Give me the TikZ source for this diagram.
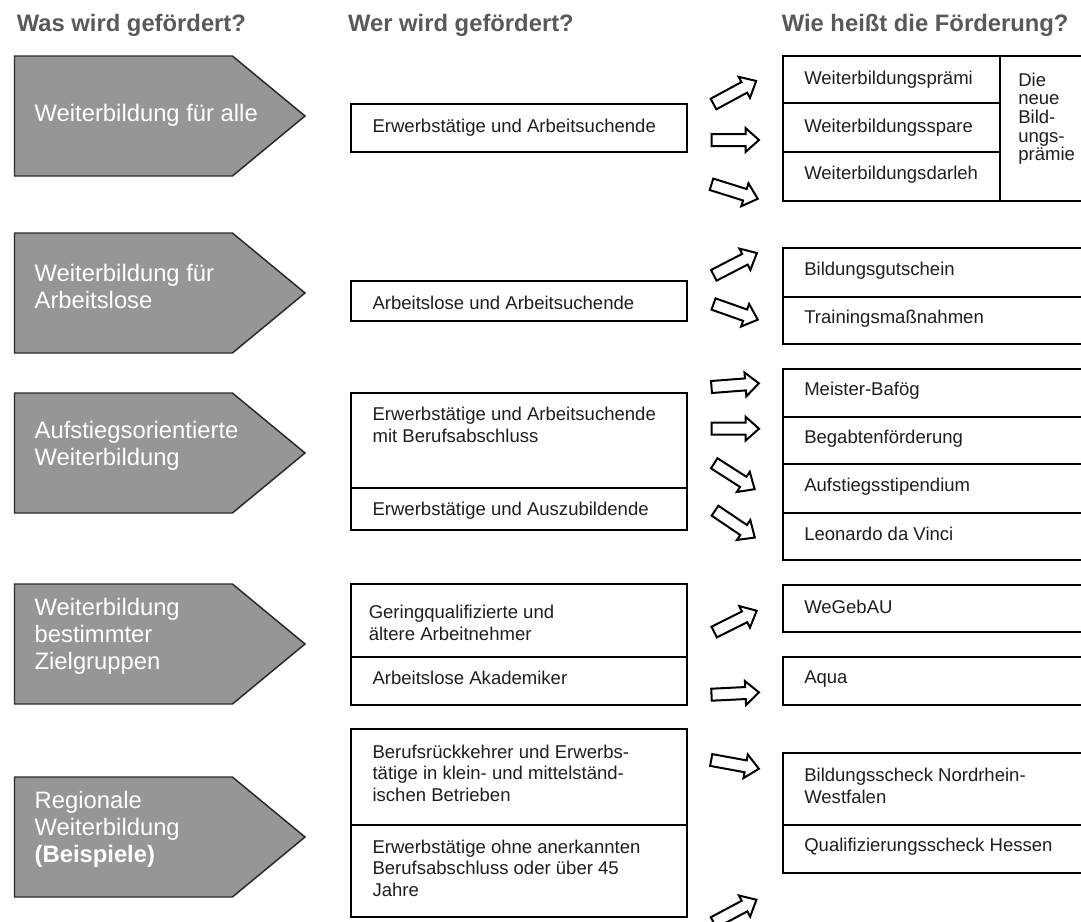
\documentclass[tikz,border=0pt]{standalone}
\usepackage{fontspec}
\setmainfont{Liberation Sans}
\definecolor{headcol}{RGB}{89,89,89}
\definecolor{pentfill}{RGB}{150,150,150}
\definecolor{pentdraw}{RGB}{40,40,40}
\definecolor{textcol}{RGB}{30,30,30}
\newcommand\blockarr[3]{%
  \draw[barrow, shift={(#1)}, rotate=#2]
    (0,-6) -- ({#3-13.5},-6) -- ({#3-13.5},-12) -- (#3,0) --
    ({#3-13.5},12) -- ({#3-13.5},6) -- (0,6) -- cycle;}
\begin{document}
\begin{tikzpicture}[x=0.75pt,y=-0.75pt,
  pent/.style={fill=pentfill, draw=pentdraw, line width=1.1pt, line join=miter},
  penttext/.style={anchor=west, inner sep=0pt, text=white, align=left, font=\fontsize{17.85}{20.25}\selectfont},
  head/.style={anchor=base west, inner sep=0pt, text=headcol, font=\bfseries\fontsize{17.85}{21}\selectfont},
  boxline/.style={draw=black, line width=1.5pt},
  btext/.style={anchor=west, inner sep=0pt, text=textcol, align=left, font=\fontsize{13.9}{16}\selectfont},
  dtext/.style={btext, font=\fontsize{13.9}{14}\selectfont},
  barrow/.style={draw=black, fill=white, line width=1.5pt, line join=miter}]
\useasboundingbox (0,0) rectangle (1081,921);
\clip (0,0) rectangle (1081,921);
\fill[white] (0,0) rectangle (1081,921);

% headers
\node[head] (h1) at (16.5,31) {Was wird gefördert?};
\node[head] (h2) at (347.8,31) {Wer wird gefördert?};
\node[head] (h3) at (781.5,31) {Wie heißt die Förderung?};

% pentagons
\path[pent] (14.5,56) -- (232.4,56) -- (305,116) -- (232.4,176) -- (14.5,176) -- cycle;
\path[pent] (14.5,233) -- (232.4,233) -- (305,293) -- (232.4,353) -- (14.5,353) -- cycle;
\path[pent] (14.5,393) -- (232.4,393) -- (305,453) -- (232.4,513) -- (14.5,513) -- cycle;
\path[pent] (14.5,584) -- (232.4,584) -- (305,644) -- (232.4,704) -- (14.5,704) -- cycle;
\path[pent] (14.5,777) -- (232.4,777) -- (305,837) -- (232.4,897) -- (14.5,897) -- cycle;
\node[penttext] (p1) at (34.4,115) {Weiterbildung für alle};
\node[penttext] (p2) at (34.4,286.5) {Weiterbildung für\\Arbeitslose};
\node[penttext] (p3) at (34.4,445.5) {Aufstiegsorientierte\\Weiterbildung};
\node[penttext] (p4) at (34.4,636.3) {Weiterbildung\\bestimmter\\Zielgruppen};
\node[penttext] (p5) at (34.4,829) {Regionale\\Weiterbildung\\\textbf{(Beispiele)}};

% middle boxes
\draw[boxline] (350.7,104.3) rectangle (687.3,152.3);
\draw[boxline] (350.7,281) rectangle (687.3,320.7);
\draw[boxline] (350.7,392.7) rectangle (687.3,530);
\draw[boxline] (350.7,488.3) -- (687.3,488.3);
\draw[boxline] (350.7,584.3) rectangle (687.3,705);
\draw[boxline] (350.7,656.7) -- (687.3,656.7);
\draw[boxline] (350.7,729) rectangle (687.3,917);
\draw[boxline] (350.7,825) -- (687.3,825);
\node[btext] (m1) at (372.3,127.3) {Erwerbstätige und Arbeitsuchende};
\node[btext] (m2) at (372.3,302.7) {Arbeitslose und Arbeitsuchende};
\node[btext] (m3a) at (372.3,425) {Erwerbstätige und Arbeitsuchende\\mit Berufsabschluss};
\node[btext] (m3b) at (372.3,510.7) {Erwerbstätige und Auszubildende};
\node[btext] (m4a) at (368.5,622.9) {Geringqualifizierte und\\ältere Arbeitnehmer};
\node[btext] (m4b) at (372.3,678) {Arbeitslose Akademiker};
\node[btext] (m5a) at (372.3,773.2) {Berufsrückkehrer und Erwerbs-\\tätige in klein- und mittelständ-\\ischen Betrieben};
\node[btext] (m5b) at (372.3,868.2) {Erwerbstätige ohne anerkannten\\Berufsabschluss oder über 45\\Jahre};

% right boxes
\draw[boxline] (783.3,56) rectangle (1095,201);
\draw[boxline] (783.3,103.3) -- (999.6,103.3);
\draw[boxline] (783.3,151.7) -- (999.6,151.7);
\draw[boxline] (999.6,56) -- (999.6,201);
\draw[boxline] (783.3,248.3) rectangle (1095,344.3);
\draw[boxline] (783.3,296.7) -- (1095,296.7);
\draw[boxline] (783.3,368.5) rectangle (1095,560);
\draw[boxline] (783.3,416.7) -- (1095,416.7);
\draw[boxline] (783.3,464.3) -- (1095,464.3);
\draw[boxline] (783.3,512.6) -- (1095,512.6);
\draw[boxline] (783.3,585) rectangle (1095,632.3);
\draw[boxline] (783.3,657.3) rectangle (1095,705);
\draw[boxline] (783.3,752.7) rectangle (1095,872.7);
\draw[boxline] (783.3,825) -- (1095,825);
\node[btext] (r1a) at (804,80) {Weiterbildungsprämi};
\node[btext] (r1b) at (804,127.7) {Weiterbildungsspare};
\node[btext] (r1c) at (804,175) {Weiterbildungsdarleh};
\node[dtext] (r1d) at (1018,118.8) {Die\\neue\\Bild-\\ungs-\\prämie};
\node[btext] (r2a) at (804,270.7) {Bildungsgutschein};
\node[btext] (r2b) at (804,319) {Trainingsmaßnahmen};
\node[btext] (r3a) at (804,390.7) {Meister-Bafög};
\node[btext] (r3b) at (804,439) {Begabtenförderung};
\node[btext] (r3c) at (804,486.7) {Aufstiegsstipendium};
\node[btext] (r3d) at (804,534.3) {Leonardo da Vinci};
\node[btext] (r4a) at (804,606.7) {WeGebAU};
\node[btext] (r4b) at (804,679) {Aqua};
\node[btext] (r5a) at (804,785.9) {Bildungsscheck Nordrhein-\\Westfalen};
\node[btext] (r5b) at (804,846.7) {Qualifizierungsscheck Hessen};

% block arrows
\coordinate (a1) at (713.5,104);
\coordinate (a2) at (711.5,140);
\coordinate (a3) at (711.5,184.3);
\coordinate (b1) at (713.8,275.3);
\coordinate (b2) at (713.5,304);
\coordinate (c1) at (711.5,387);
\coordinate (c2) at (711.5,428.7);
\coordinate (c3) at (714.2,463.3);
\coordinate (c4) at (715,510.7);
\coordinate (d1) at (714.2,632);
\coordinate (d2) at (711.5,694.7);
\coordinate (e1) at (711.2,760);
\coordinate (e2) at (713.6,922.5);
\blockarr{a1}{28.4}{48.5}
\blockarr{a2}{0}{47.5}
\blockarr{a3}{-17.4}{48.5}
\blockarr{b1}{27.3}{48.5}
\blockarr{b2}{-19.5}{47}
\blockarr{c1}{4.4}{47.5}
\blockarr{c2}{0}{47.5}
\blockarr{c3}{-32.6}{48}
\blockarr{c4}{-34}{48}
\blockarr{d1}{26.6}{47.5}
\blockarr{d2}{2.8}{47.5}
\blockarr{e1}{-10.4}{48.5}
\blockarr{e2}{28}{48.5}
\end{tikzpicture}
\end{document}
